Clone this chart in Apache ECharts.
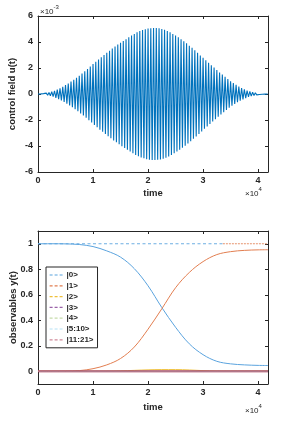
<!DOCTYPE html>
<html><head><meta charset="utf-8">
<script src="https://cdn.jsdelivr.net/npm/echarts@6/dist/echarts.min.js"></script>
<style>html,body{margin:0;padding:0;background:#fff}#c{width:294px;height:427px}</style>
</head><body><div id="c"></div>
<script>
// ---- top panel: control field u(t), units of 1e-3, time in units of 1e4 ----
const uStep = 0.025;
const uPeaks = [
 0,-0.005,0.01,-0.02, 0.03,-0.05,0.07,-0.09, 0.11,-0.14,0.18,-0.21, 0.25,-0.30,0.34,-0.39,
 0.44,-0.50,0.56,-0.62, 0.68,-0.75,0.81,-0.88, 0.95,-1.02,1.10,-1.17, 1.25,-1.33,1.41,-1.49,
 1.57,-1.66,1.74,-1.83, 1.92,-2.01,2.11,-2.20, 2.30,-2.39,2.48,-2.56, 2.65,-2.74,2.82,-2.91,
 3.00,-3.08,3.17,-3.25, 3.33,-3.41,3.49,-3.57, 3.65,-3.72,3.80,-3.87, 3.95,-4.02,4.08,-4.15,
 4.22,-4.29,4.36,-4.43, 4.50,-4.56,4.62,-4.69, 4.75,-4.79,4.84,-4.88, 4.92,-4.95,4.98,-5.01,
 5.04,-5.05,5.06,-5.07, 5.08,-5.07,5.07,-5.06, 5.05,-5.03,5.00,-4.98, 4.95,-4.90,4.85,-4.80,
 4.75,-4.69,4.62,-4.56, 4.50,-4.43,4.36,-4.29, 4.22,-4.14,4.06,-3.98, 3.90,-3.81,3.72,-3.64,
 3.55,-3.45,3.36,-3.26, 3.17,-3.07,2.97,-2.88, 2.78,-2.68,2.59,-2.49, 2.40,-2.31,2.21,-2.12,
 2.03,-1.94,1.84,-1.75, 1.66,-1.57,1.49,-1.40, 1.32,-1.23,1.15,-1.06, 0.98,-0.91,0.84,-0.77,
 0.70,-0.64,0.58,-0.52, 0.46,-0.41,0.36,-0.32, 0.27,-0.23,0.20,-0.16, 0.13,-0.11,0.09,-0.07,
 0.05,-0.04,0.03,-0.02, 0.01,-0.01,0.005,0
];
const tMax = 4.18;
const xTicks = [0,1,2,3,4];
const uTicks = [-6,-4,-2,0,2,4,6];

// ---- bottom panel: observables ----
const tPop = [0,0.25,0.5,0.75,1.0,1.25,1.5,1.75,2.0,2.25,2.5,2.75,3.0,3.25,3.5,3.75,4.0,4.18];
const pop0 = [1.000,1.000,0.999,0.994,0.978,0.944,0.895,0.805,0.67,0.50,0.345,0.215,0.13,0.078,0.058,0.050,0.046,0.045];
const pop1 = [0,0,0.001,0.005,0.02,0.05,0.10,0.19,0.33,0.49,0.655,0.775,0.86,0.915,0.938,0.948,0.952,0.953];
const pop2 = [0,0,0,0,0,0.001,0.003,0.007,0.011,0.013,0.013,0.010,0.005,0.002,0.001,0.001,0.001,0.001];
const pop3 = [0,0,0,0,0,0,0,0,0,0,0,0,0,0,0,0,0,0];
const pop4 = [0,0,0,0,0,0,0,0,0,0,0,0,0,0,0,0,0,0];
const pop5to10 = [0,0,0,0,0,0,0,0,0,0,0,0,0,0,0,0,0,0];
const pop11to21 = [0,0,0,0,0,0,0,0,0,0,0,0,0,0,0,0,0,0];
const popNames = ['|0>','|1>','|2>','|3>','|4>','|5:10>','|11:21>'];
const refBlueT = [0, 3.36];
const refOrangeT = [3.36, 4.18];
const refLevel = 1;
const yTicks = [0,0.2,0.4,0.6,0.8,1];

const chart = echarts.init(document.getElementById('c'), null, {renderer:'canvas'});
const TXT = '#262626';
const FONT = '"Liberation Sans", Arial, sans-serif';
const lbl = {color:TXT, fontSize:9, fontFamily:FONT, fontWeight:'bold'};

function pairs(ts, vs){ return ts.map((t,i)=>[t, vs[i]]); }
const uData = uPeaks.map((v,i)=>[i*uStep, v]);

function xAx(grid, pos, show, gap){
  return {type:'value', gridIndex:grid, position:pos, min:0, max:tMax,
    axisLine:{show:true, onZero:false, lineStyle:{color:TXT, width:1}},
    axisTick:{show:true, inside:true, length:3, customValues:xTicks, lineStyle:{color:TXT}},
    axisLabel:{show:show, customValues:xTicks, margin:4, ...lbl},
    splitLine:{show:false},
    name: show ? 'time' : '', nameLocation:'middle', nameGap:gap||17, nameMoveOverlap:false,
    nameTextStyle:{color:TXT, fontSize:9.5, fontFamily:FONT, fontWeight:'bold'}};
}
function yAx(grid, pos, show, min, max, ticks, name, gap){
  return {type:'value', gridIndex:grid, position:pos, min:min, max:max,
    axisLine:{show:true, onZero:false, lineStyle:{color:TXT, width:1}},
    axisTick:{show:true, inside:true, length:3, customValues:ticks, lineStyle:{color:TXT}},
    axisLabel:{show:show, customValues:ticks, margin:5, ...lbl},
    splitLine:{show:false},
    name: show ? name : '', nameLocation:'middle', nameGap:gap, nameMoveOverlap:false,
    nameTextStyle:{color:TXT, fontSize:9.5, fontFamily:FONT, fontWeight:'bold'}};
}

const popColors = ['#3d92d8','#e07a4d','#edb120','#8e4f9c','#b9d596','#a8dcf2','#b8566c'];
const popLine = {
  '|0>':{color:'#5aa3de', width:1, data:pop0},
  '|1>':{color:'#e27e50', width:1, data:pop1},
  '|2>':{color:'#efc03a', width:1, data:pop2},
  '|3>':{color:'#9a62a8', width:1, data:pop3},
  '|4>':{color:'#c6dcaa', width:1, data:pop4},
  '|5:10>':{color:'#b5e1f5', width:1, data:pop5to10},
  '|11:21>':{color:'rgba(170,40,70,0.55)', width:2.5, data:pop11to21}
};

const series = [
  {type:'line', xAxisIndex:0, yAxisIndex:0, data:uData, symbol:'none', silent:true,
   lineStyle:{color:'#0072BD', width:1.1}, z:3},
  {type:'line', xAxisIndex:2, yAxisIndex:2, data:pairs(refBlueT,[refLevel,refLevel]), symbol:'none',
   lineStyle:{color:'#6eaee2', width:1.2, type:[3,2.5]}},
  {type:'line', xAxisIndex:2, yAxisIndex:2, data:pairs(refOrangeT,[refLevel,refLevel]), symbol:'none',
   lineStyle:{color:'#e6936d', width:1.2, type:[2,1]}}
];
popNames.forEach((n,i)=>{
  const p = popLine[n];
  series.push({type:'line', name:n, xAxisIndex:2, yAxisIndex:2, data:pairs(tPop,p.data),
    symbol:'none', showSymbol:false, smooth:0.35, color:popColors[i],
    lineStyle:{color:p.color, width:p.width}});
});

chart.setOption({
  animation:false,
  textStyle:{fontFamily:FONT},
  grid:[
    {left:38, top:16, width:230, height:156, show:false, containLabel:false, outerBoundsMode:'none'},
    {left:38, top:231, width:230, height:153, show:false, containLabel:false, outerBoundsMode:'none'}
  ],
  xAxis:[ xAx(0,'bottom',true,16), xAx(0,'top',false), xAx(1,'bottom',true,18), xAx(1,'top',false) ],
  yAxis:[
    yAx(0,'left',true,-6,6,uTicks,'control field u(t)',21),
    yAx(0,'right',false,-6,6,uTicks,'',0),
    yAx(1,'left',true,-0.1,1.1,yTicks,'observables y(t)',20),
    yAx(1,'right',false,-0.1,1.1,yTicks,'',0)
  ],
  legend:{
    data:popNames, orient:'vertical', left:46, top:267,
    itemWidth:14, itemHeight:8, itemGap:2.8, padding:[4,4,4,3],
    backgroundColor:'#fff', borderColor:'#262626', borderWidth:1,
    itemStyle:{opacity:0},
    lineStyle:{type:[3,2], width:1.2, opacity:1},
    textStyle:{color:TXT, fontSize:8, fontFamily:FONT, fontWeight:'bold', padding:[0,0,0,-2]},
    selectedMode:false
  },
  graphic:[
    {type:'text', left:40, top:4, style:{text:'{a|×10}{b|-3}', rich:{a:{fontSize:8, fill:TXT, fontFamily:FONT, padding:[4,0,0,0]}, b:{fontSize:6, fill:TXT, fontFamily:FONT, verticalAlign:'top'}}}},
    {type:'text', left:245, top:186, style:{text:'{a|×10}{b|4}', rich:{a:{fontSize:8, fill:TXT, fontFamily:FONT, padding:[4,0,0,0]}, b:{fontSize:6, fill:TXT, fontFamily:FONT, verticalAlign:'top'}}}},
    {type:'text', left:245, top:403, style:{text:'{a|×10}{b|4}', rich:{a:{fontSize:8, fill:TXT, fontFamily:FONT, padding:[4,0,0,0]}, b:{fontSize:6, fill:TXT, fontFamily:FONT, verticalAlign:'top'}}}}
  ],
  series:series
});
</script></body></html>
